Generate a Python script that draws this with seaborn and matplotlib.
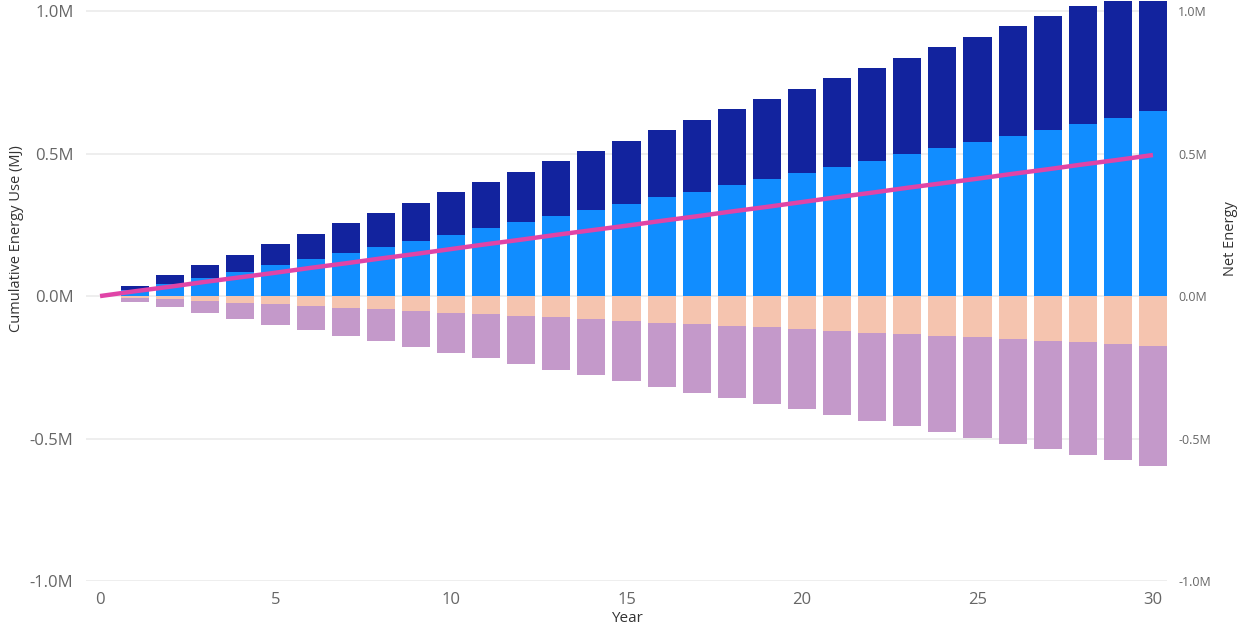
import numpy as np
import pandas as pd
import matplotlib
matplotlib.use("Agg")
import matplotlib.pyplot as plt
import seaborn as sns
from matplotlib.ticker import FuncFormatter

# Cumulative energy per year, in thousands of MJ
years = list(range(1, 31))
use_lower = [22, 43, 65, 86, 108, 130, 151, 173, 194, 216, 238, 259, 281, 302, 324,
             346, 367, 389, 410, 432, 454, 475, 497, 518, 540, 562, 583, 605, 626, 648]
use_upper = [15, 30, 44, 59, 74, 89, 104, 118, 133, 148, 163, 178, 192, 207, 222,
             237, 252, 266, 281, 296, 311, 326, 340, 355, 370, 385, 400, 414, 429, 444]
offset_upper = [6, 12, 17, 23, 29, 35, 41, 46, 52, 58, 64, 70, 75, 81, 87,
                93, 99, 104, 110, 116, 122, 128, 133, 139, 145, 151, 157, 162, 168, 174]
offset_lower = [14, 28, 42, 56, 71, 85, 99, 113, 127, 141, 155, 169, 183, 197, 212,
                226, 240, 254, 268, 282, 296, 310, 324, 338, 353, 367, 381, 395, 409, 423]

COL_LIGHT = "#118DFF"
COL_DARK = "#12239E"
COL_PEACH = "#F5C4AF"
COL_PURPLE = "#C499CA"
COL_LINE = "#E044A7"

sns.set_theme(style="white")
plt.rcParams["font.family"] = ["Open Sans", "DejaVu Sans"]

k = 1000.0
df = pd.DataFrame({
    "year": years,
    "lower": np.array(use_lower) * k,
    "pos_total": (np.array(use_lower) + np.array(use_upper)) * k,
    "peach": -np.array(offset_upper) * k,
    "neg_total": -(np.array(offset_upper) + np.array(offset_lower)) * k,
})
net = df["pos_total"] + df["neg_total"]
line_df = pd.DataFrame({"year": [0] + years, "net": [0.0] + list(net)})

fig = plt.figure(figsize=(12.39, 6.29), dpi=100)
ax = fig.add_axes([86 / 1239, 48 / 629, 1081 / 1239, 580.4 / 629])

# Stacked columns: full stack first, lower segment drawn over it
bar_kw = dict(native_scale=True, saturation=1, linewidth=0, width=0.8, ax=ax)
sns.barplot(data=df, x="year", y="pos_total", color=COL_DARK, **bar_kw)
sns.barplot(data=df, x="year", y="lower", color=COL_LIGHT, **bar_kw)
sns.barplot(data=df, x="year", y="neg_total", color=COL_PURPLE, **bar_kw)
sns.barplot(data=df, x="year", y="peach", color=COL_PEACH, **bar_kw)

ylo, yhi = -1.0e6, 1.037e6
ax.set_xlim(-0.4, 30.4)
ax.set_ylim(ylo, yhi)
yt = [-1.0e6, -0.5e6, 0, 0.5e6, 1.0e6]
fmt = FuncFormatter(lambda v, p: f"{v / 1e6:.1f}M")
ax.set_yticks(yt)
ax.yaxis.set_major_formatter(fmt)
ax.set_xticks([0, 5, 10, 15, 20, 25, 30])
ax.set_xticklabels(["0", "5", "10", "15", "20", "25", "30"])
ax.grid(axis="y", color="#EBEBEB", linewidth=1.2, zorder=0)
ax.set_axisbelow(True)
for s in ax.spines.values():
    s.set_visible(False)
ax.tick_params(axis="both", length=0, labelsize=12, colors="#666666")
ax.tick_params(axis="y", pad=9)
ax.tick_params(axis="x", pad=8)
ax.set_xlabel("Year", fontsize=11, color="#333333")
ax.set_ylabel("Cumulative Energy Use (MJ)", fontsize=10.5, color="#333333")
ax.xaxis.set_label_coords(0.5, -0.052)
ax.yaxis.set_label_coords(-0.057, 0.59)

# Net energy on a secondary axis with the same scale
ax2 = ax.twinx()
ax2.set_ylim(ylo, yhi)
ax2.set_yticks(yt)
ax2.yaxis.set_major_formatter(fmt)
for s in ax2.spines.values():
    s.set_visible(False)
ax2.tick_params(axis="y", length=0, labelsize=9, colors="#666666", pad=8)
sns.lineplot(data=line_df, x="year", y="net", color=COL_LINE, linewidth=3.2, ax=ax2,
             solid_capstyle="butt")
ax2.set_xlim(-0.4, 30.4)
ax2.set_xlabel("")
ax2.set_ylabel("Net Energy", fontsize=10.5, color="#333333", rotation=90)
ax2.yaxis.set_label_coords(1.052, 0.59)

fig.savefig("out.png", dpi=100)
